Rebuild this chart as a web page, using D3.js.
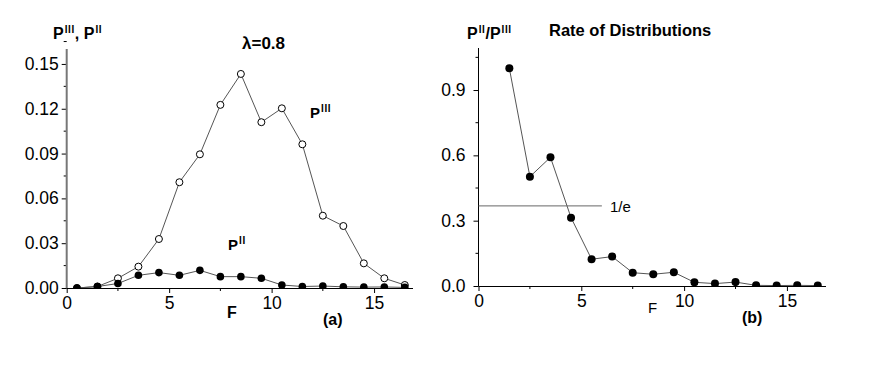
<!DOCTYPE html>
<html>
<head>
<meta charset="utf-8">
<script src="https://cdn.jsdelivr.net/npm/d3@7"></script>
<style>
  body { margin: 0; background: #fff; }
  svg { display: block; }
  text { font-family: "Liberation Sans", Arial, sans-serif; fill: #000; }
</style>
</head>
<body>
<div id="chart"></div>
<script>
// data
const fValues = [0.5, 1.5, 2.5, 3.5, 4.5, 5.5, 6.5, 7.5, 8.5, 9.5, 10.5, 11.5, 12.5, 13.5, 14.5, 15.5, 16.5]
const p3Values = [0, 0.001, 0.0065, 0.0143, 0.0328, 0.0708, 0.0895, 0.1226, 0.1433, 0.111, 0.1203, 0.0962, 0.0484, 0.0415, 0.0165, 0.0065, 0.002]
const p2Values = [0, 0.001, 0.003, 0.0085, 0.0103, 0.0085, 0.0118, 0.0076, 0.0076, 0.0065, 0.002, 0.001, 0.0013, 0.0008, 0.0006, 0.0007, 0.0004]
const rateF = [1.5, 2.5, 3.5, 4.5, 5.5, 6.5, 7.5, 8.5, 9.5, 10.5, 11.5, 12.5, 13.5, 14.5, 15.5, 16.5]
const rateValues = [1.0, 0.502, 0.591, 0.314, 0.123, 0.135, 0.061, 0.054, 0.063, 0.017, 0.011, 0.018, 0.003, 0.002, 0.003, 0.002]
const leftYTicks = [0, 0.03, 0.06, 0.09, 0.12, 0.15]
const rightYTicks = [0, 0.3, 0.6, 0.9]
const xTicks = [0, 5, 10, 15]
const invE = 1 / Math.E

const svg = d3.select("#chart").append("svg")
    .attr("width", 875)
    .attr("height", 365)

const lineColor = "#555"

function drawPanel(opts) {
    const x = d3.scaleLinear().domain([0, 16.9]).range([opts.left, opts.right])
    const y = d3.scaleLinear().domain(opts.yDomain).range([opts.bottom, opts.top])
    const g = svg.append("g")

    // clip marks to the area above the x axis
    g.append("clipPath").attr("id", opts.id + "-clip")
        .append("rect")
        .attr("x", opts.left - 10).attr("y", opts.top - 20)
        .attr("width", opts.right - opts.left + 20)
        .attr("height", opts.bottom - opts.top + 20)

    // y axis
    const yAxis = d3.axisLeft(y).tickValues(opts.yTicks).tickSize(5).tickPadding(opts.yPad)
        .tickFormat(opts.yFormat)
    const ya = g.append("g").attr("transform", `translate(${opts.left},0)`).call(yAxis)
    ya.select(".domain").remove()
    ya.selectAll(".tick line").attr("stroke", "#000")
    ya.selectAll(".tick text").style("font-size", "17.5px").attr("fill", "#000")
    const yMinor = opts.yTicks.map(v => v + opts.yStep / 2)
    g.selectAll(".yminor").data(yMinor).join("line")
        .attr("x1", opts.left - 3).attr("x2", opts.left)
        .attr("y1", d => y(d)).attr("y2", d => y(d))
        .attr("stroke", "#000")
    g.append("line")
        .attr("x1", opts.left).attr("x2", opts.left)
        .attr("y1", opts.bottom).attr("y2", opts.top)
        .attr("stroke", opts.yAxisColor).attr("stroke-width", opts.yAxisWidth)

    // x axis
    const xAxis = d3.axisBottom(x).tickValues(xTicks).tickSize(5).tickPadding(4)
    const xa = g.append("g").attr("transform", `translate(0,${opts.bottom})`).call(xAxis)
    xa.select(".domain").remove()
    xa.selectAll(".tick line").attr("stroke", "#000")
    xa.selectAll(".tick text").style("font-size", "17.5px").attr("fill", "#000")
    g.selectAll(".xminor").data([2.5, 7.5, 12.5]).join("line")
        .attr("x1", d => x(d)).attr("x2", d => x(d))
        .attr("y1", opts.bottom).attr("y2", opts.bottom + 3)
        .attr("stroke", "#000")
    g.append("line")
        .attr("x1", opts.left).attr("x2", opts.right)
        .attr("y1", opts.bottom + 0.5).attr("y2", opts.bottom + 0.5)
        .attr("stroke", "#000")

    const marks = g.append("g").attr("clip-path", `url(#${opts.id}-clip)`)
    return { x, y, g, marks }
}

// panel (a)
const a = drawPanel({
    id: "pa", left: 66.7, right: 413, top: 49, bottom: 288,
    yDomain: [0, 0.16], yTicks: leftYTicks, yStep: 0.03, yPad: 3,
    yFormat: d3.format(".2f"), yAxisColor: "#777", yAxisWidth: 2
})
const lineA = d3.line().x((d, i) => a.x(fValues[i])).y(d => a.y(d))
a.marks.append("path").datum(p3Values)
    .attr("d", lineA).attr("fill", "none").attr("stroke", lineColor).attr("stroke-width", 1)
a.marks.selectAll(".p3").data(p3Values).join("circle")
    .attr("cx", (d, i) => a.x(fValues[i])).attr("cy", d => a.y(d)).attr("r", 3.5)
    .attr("fill", "#fff").attr("stroke", "#000").attr("stroke-width", 1)
a.marks.append("path").datum(p2Values)
    .attr("d", lineA).attr("fill", "none").attr("stroke", lineColor).attr("stroke-width", 1)
a.marks.selectAll(".p2").data(p2Values).join("circle")
    .attr("cx", (d, i) => a.x(fValues[i])).attr("cy", d => a.y(d)).attr("r", 3.8)
    .attr("fill", "#000")

// panel (b)
const b = drawPanel({
    id: "pb", left: 478.5, right: 826, top: 48, bottom: 286,
    yDomain: [0, 1.093], yTicks: rightYTicks, yStep: 0.3, yPad: 8,
    yFormat: d3.format(".1f"), yAxisColor: "#000", yAxisWidth: 1
})
const lineB = d3.line().x((d, i) => b.x(rateF[i])).y(d => b.y(d))
b.marks.append("path").datum(rateValues)
    .attr("d", lineB).attr("fill", "none").attr("stroke", lineColor).attr("stroke-width", 1)
b.marks.selectAll(".rate").data(rateValues).join("circle")
    .attr("cx", (d, i) => b.x(rateF[i])).attr("cy", d => b.y(d)).attr("r", 4)
    .attr("fill", "#000")
b.g.append("line")
    .attr("x1", b.x(0)).attr("x2", b.x(6))
    .attr("y1", b.y(invE)).attr("y2", b.y(invE))
    .attr("stroke", "#666").attr("stroke-width", 1)

// labels with superscript strokes
function supLabel(x, y, parts, size) {
    const t = svg.append("text").attr("x", x).attr("y", y)
        .style("font-size", size + "px").style("font-weight", "bold")
    let raised = false
    parts.forEach(p => {
        if (p.sup) {
            t.append("tspan").text(p.sup).style("font-size", "10px")
                .style("letter-spacing", "0.6px").attr("dx", 1).attr("dy", -6)
            raised = true
        } else {
            t.append("tspan").text(p.t).attr("dy", raised ? 6 : 0)
            raised = false
        }
    })
    return t
}
supLabel(53, 39, [{ t: "P" }, { sup: "III" }, { t: ", P" }, { sup: "II" }], 16)
supLabel(310, 118, [{ t: "P" }, { sup: "III" }], 15)
supLabel(228, 250, [{ t: "P" }, { sup: "II" }], 15)
supLabel(467, 39, [{ t: "P" }, { sup: "II" }, { t: "/P" }, { sup: "III" }], 16)

svg.append("text").attr("x", 242).attr("y", 49).text("\u03bb=0.8")
    .style("font-size", "17px").style("font-weight", "bold")
svg.append("text").attr("x", 227).attr("y", 318).text("F")
    .style("font-size", "16px").style("font-weight", "bold")
svg.append("text").attr("x", 323).attr("y", 325).text("(a)")
    .style("font-size", "16px").style("font-weight", "bold")
svg.append("text").attr("x", 549).attr("y", 35.5).text("Rate of Distributions")
    .style("font-size", "16.5px").style("font-weight", "bold")
svg.append("text").attr("x", 610).attr("y", 212).text("1/e")
    .style("font-size", "15px")
svg.append("text").attr("x", 648).attr("y", 313).text("F")
    .style("font-size", "15px")
svg.append("text").attr("x", 742).attr("y", 323).text("(b)")
    .style("font-size", "16px").style("font-weight", "bold")
</script>
</body>
</html>
